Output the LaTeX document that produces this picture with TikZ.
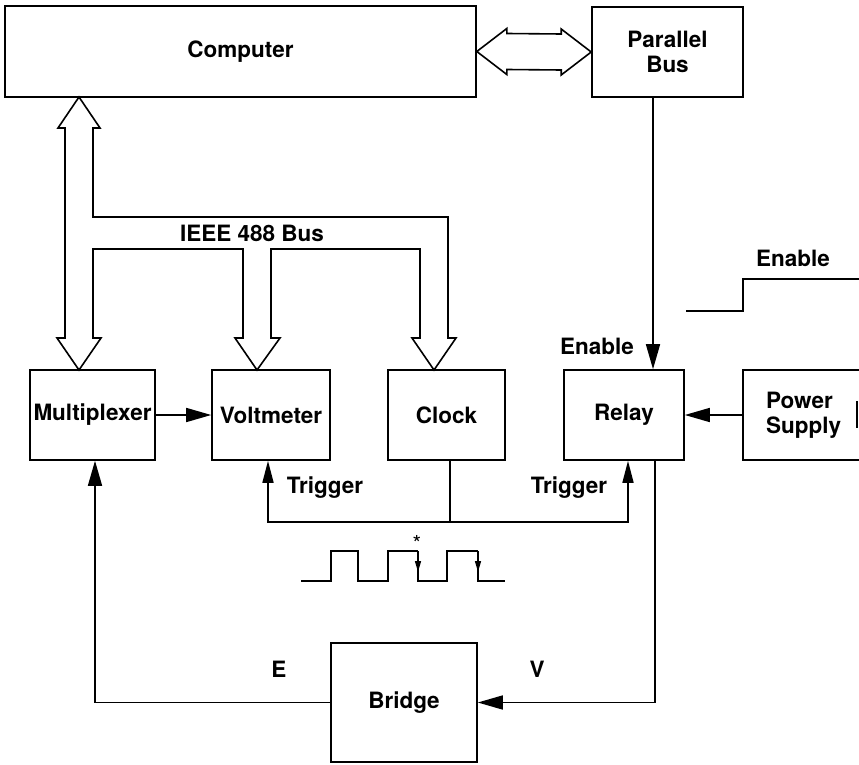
\documentclass[tikz,border=0pt]{standalone}
\usepackage{fontspec}
\setmainfont{TeX Gyre Heros}
\usetikzlibrary{arrows.meta,calc}
\begin{document}
\begin{tikzpicture}[x=1pt,y=-1pt,
  line width=1.6pt, line join=miter,
  blk/.style={draw, line width=1.6pt, inner sep=0pt, align=center, font=\fontsize{22.5}{25}\selectfont\bfseries},
  lbl/.style={inner sep=0pt, font=\fontsize{22.5}{25}\selectfont\bfseries},
  sig/.style={-{Triangle[length=25pt,width=14pt]}},
  trg/.style={-{Triangle[length=22pt,width=11pt]}},
  bus/.style={line width=1.6pt, line join=miter}
]
\useasboundingbox (0,0) rectangle (859,765);
% blocks
\node[blk, minimum width=471pt, minimum height=91pt] (comp) at (240.5,51.5) {Computer};
\node[blk, minimum width=151pt, minimum height=90pt] (pbus) at (667.5,52) {Parallel\\Bus};
\node[blk, minimum width=125pt, minimum height=90pt] (mux) at (92.5,415) {Multiplexer};
\node[blk, minimum width=118pt, minimum height=90pt] (volt) at (271,415) {Voltmeter};
\node[blk, minimum width=117pt, minimum height=90pt] (clock) at (446.5,415) {Clock};
\node[blk, minimum width=120pt, minimum height=90pt] (relay) at (624,415) {Relay};
\node[blk, minimum width=127pt, minimum height=90pt, text width=127pt, align=left] (psu) at (806.5,415) {\hspace*{23pt}Power\\\hspace*{23pt}Supply};
\node[blk, minimum width=146pt, minimum height=119pt] (bridge) at (404,702.5) {Bridge};
\draw (857,401) -- (857,428);

% double arrow Computer <-> Parallel Bus
\draw[bus] (comp.east) -- ++(30,-23) -- ++(0,5) -- ($(pbus.west)+(-30,-18)$) -- ++(0,-5) -- (pbus.west)
  -- ++(-30,23) -- ++(0,-5) -- ($(comp.east)+(30,18)$) -- ++(0,5) -- cycle;

% IEEE 488 bus
\coordinate (ct) at (79,97);
\draw[bus] (65,128) -- (58,128) -- (ct) -- (100,128) -- (93,128)
  -- (93,217) -- (448,217) -- (448,338) -- (456,338) -- (434,370) -- (412,338) -- (420,338)
  -- (420,249) -- (271,249) -- (271,338) -- (280,338) -- (257,370) -- (235,338) -- (243,338)
  -- (243,249) -- (93,249) -- (93,338) -- (101,338) -- (79,370) -- (57,338) -- (65,338) -- cycle;
\node[lbl] (ieee) at (252,233) {IEEE 488 Bus};

% signal arrows
\draw[sig] (pbus.south -| 653,0) -- (relay.north -| 653,0);
\draw[sig] (mux.east) -- (volt.west);
\node[lbl] (en1) at (597,346) {Enable};
\draw[sig] (psu.west) -- (relay.east);

% trigger
\coordinate (tj) at (450,522);
\draw (clock.south -| 450,0) -- (tj);
\draw[trg] (tj) -- (268,522) -- (volt.south -| 268,0);
\draw[trg] (tj) -- (628,522) -- (relay.south -| 628,0);
\node[lbl] (tr1) at (325,488) {Trigger};
\node[lbl] (tr2) at (569,488) {Trigger};

% relay -> bridge -> multiplexer
\draw[sig] (relay.south -| 655,0) -- (655,702.5) -- (bridge.east);
\draw[sig] (bridge.west) -- (95,702.5) -- (mux.south -| 95,0);
\node[lbl] (E) at (279,669) {E};
\node[lbl] (V) at (537,669) {V};

% enable waveform
\draw (686,311) -- (743,311) -- (743,279) -- (859,279);
\node[lbl] (en2) at (793,258) {Enable};

% clock waveform
\draw[line width=1.4pt] (301,581) -- (331,581) -- (331,551) -- (358,551) -- (358,581) -- (388,581) -- (388,551) -- (418,551);
\draw[line width=1.4pt,-{Triangle[length=11pt,width=6pt]}] (418,551) -- (418,572);
\draw[line width=1.4pt] (418,568) -- (418,581) -- (447,581) -- (447,551) -- (478,551);
\draw[line width=1.4pt,-{Triangle[length=11pt,width=6pt]}] (478,551) -- (478,572);
\draw[line width=1.4pt] (478,568) -- (478,581) -- (505,581);
\node[inner sep=0pt, font=\fontsize{22}{22}\selectfont] (ast) at (417,543) {*};
\end{tikzpicture}
\end{document}
